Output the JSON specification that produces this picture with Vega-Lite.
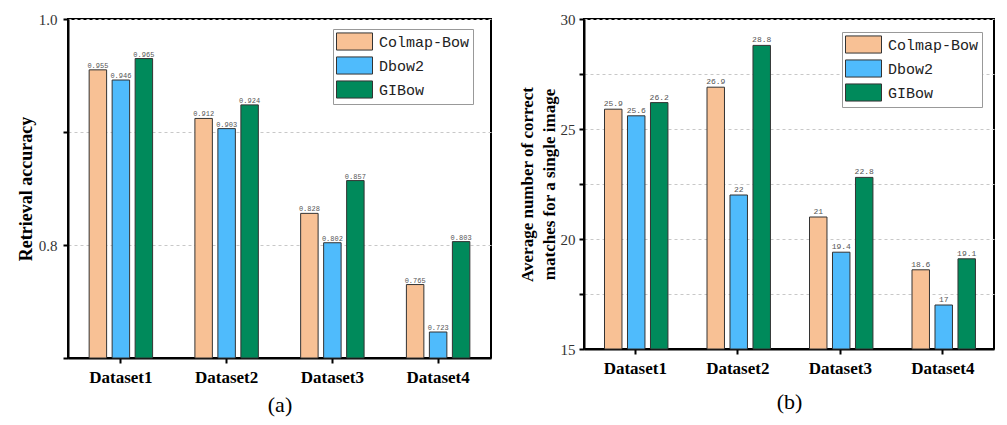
{
  "$schema": "https://vega.github.io/schema/vega-lite/v6.json",
  "padding": {"left": 16, "top": 11, "right": 5, "bottom": 5},
  "background": "white",
  "spacing": 25,
  "config": {
    "view": {"stroke": "black", "strokeWidth": 2},
    "axis": {
      "domainColor": "black", "domainWidth": 2,
      "tickColor": "black", "tickWidth": 2, "tickSize": 5,
      "labelFont": "Liberation Serif", "titleFont": "Liberation Serif",
      "gridColor": "#c8c8c8", "gridDash": [3, 3], "gridWidth": 1
    },
    "legend": {
      "orient": "none",
      "strokeColor": "#999", "fillColor": "white", "padding": 3,
      "symbolType": "M-1,-0.95H3V0.95H-1Z", "symbolSize": 324,
      "symbolStrokeColor": "#333", "symbolStrokeWidth": 1, "symbolOpacity": 1,
      "labelFont": "Liberation Mono", "labelFontSize": 15, "labelColor": "#222",
      "labelOffset": 24, "rowPadding": 1, "title": null
    }
  },
  "hconcat": [
    {
      "width": 423, "height": 339,
      "data": {"values": [
        {"dataset": "Dataset1", "method": "Colmap-Bow", "value": 0.955},
        {"dataset": "Dataset1", "method": "Dbow2", "value": 0.946},
        {"dataset": "Dataset1", "method": "GIBow", "value": 0.965},
        {"dataset": "Dataset2", "method": "Colmap-Bow", "value": 0.912},
        {"dataset": "Dataset2", "method": "Dbow2", "value": 0.903},
        {"dataset": "Dataset2", "method": "GIBow", "value": 0.924},
        {"dataset": "Dataset3", "method": "Colmap-Bow", "value": 0.828},
        {"dataset": "Dataset3", "method": "Dbow2", "value": 0.802},
        {"dataset": "Dataset3", "method": "GIBow", "value": 0.857},
        {"dataset": "Dataset4", "method": "Colmap-Bow", "value": 0.765},
        {"dataset": "Dataset4", "method": "Dbow2", "value": 0.723},
        {"dataset": "Dataset4", "method": "GIBow", "value": 0.803}
      ]},
      "encoding": {
        "x": {"field": "dataset", "type": "nominal",
          "scale": {"paddingInner": 0.4, "paddingOuter": 0.2},
          "axis": {"title": "(a)", "labelAngle": 0, "labelFontWeight": "bold", "labelFontSize": 17,
            "labelColor": "black", "labelPadding": 6, "titleFontSize": 22, "titleFontWeight": "normal",
            "titlePadding": 9, "titleColor": "black", "grid": false}},
        "xOffset": {"field": "method", "type": "nominal", "sort": ["Colmap-Bow", "Dbow2", "GIBow"],
          "scale": {"paddingInner": 0.24, "paddingOuter": 0}},
        "y": {"field": "value", "type": "quantitative",
          "scale": {"domain": [0.7, 1.0], "zero": false, "nice": false},
          "axis": {"values": [0.7, 0.8, 0.9, 1.0],
            "labelExpr": "datum.value == 0.8 || datum.value == 1 ? format(datum.value, '.1f') : ''",
            "title": "Retrieval accuracy", "titleFontSize": 18, "titleFontWeight": "bold", "titleColor": "black",
            "titlePadding": 3, "labelFontSize": 15, "labelColor": "#333", "labelPadding": 6, "grid": true}}
      },
      "layer": [
        {"mark": {"type": "bar", "stroke": "#333", "strokeWidth": 1},
          "encoding": {
            "y2": {"datum": 0.7},
            "color": {"field": "method", "type": "nominal",
              "scale": {"domain": ["Colmap-Bow", "Dbow2", "GIBow"], "range": ["#F8C195", "#4FBBFC", "#008A5B"]},
              "legend": {"legendX": 265, "legendY": 10}}
          }},
        {"mark": {"type": "text", "dy": -1, "baseline": "bottom", "font": "Liberation Mono", "fontSize": 7, "color": "#555"},
          "encoding": {"text": {"field": "value", "type": "quantitative"}}}
      ]
    },
    {
      "width": 410, "height": 330,
      "data": {"values": [
        {"dataset": "Dataset1", "method": "Colmap-Bow", "value": 25.9},
        {"dataset": "Dataset1", "method": "Dbow2", "value": 25.6},
        {"dataset": "Dataset1", "method": "GIBow", "value": 26.2},
        {"dataset": "Dataset2", "method": "Colmap-Bow", "value": 26.9},
        {"dataset": "Dataset2", "method": "Dbow2", "value": 22},
        {"dataset": "Dataset2", "method": "GIBow", "value": 28.8},
        {"dataset": "Dataset3", "method": "Colmap-Bow", "value": 21},
        {"dataset": "Dataset3", "method": "Dbow2", "value": 19.4},
        {"dataset": "Dataset3", "method": "GIBow", "value": 22.8},
        {"dataset": "Dataset4", "method": "Colmap-Bow", "value": 18.6},
        {"dataset": "Dataset4", "method": "Dbow2", "value": 17},
        {"dataset": "Dataset4", "method": "GIBow", "value": 19.1}
      ]},
      "encoding": {
        "x": {"field": "dataset", "type": "nominal",
          "scale": {"paddingInner": 0.4, "paddingOuter": 0.2},
          "axis": {"title": "(b)", "labelAngle": 0, "labelFontWeight": "bold", "labelFontSize": 17,
            "labelColor": "black", "labelPadding": 6, "titleFontSize": 22, "titleFontWeight": "normal",
            "titlePadding": 15, "titleColor": "black", "grid": false}},
        "xOffset": {"field": "method", "type": "nominal", "sort": ["Colmap-Bow", "Dbow2", "GIBow"],
          "scale": {"paddingInner": 0.24, "paddingOuter": 0}},
        "y": {"field": "value", "type": "quantitative",
          "scale": {"domain": [15, 30], "zero": false, "nice": false},
          "axis": {"values": [15, 17.5, 20, 22.5, 25, 27.5, 30],
            "labelExpr": "datum.value % 5 == 0 ? datum.label : ''",
            "title": ["Average number of correct", "matches for a single image"], "titleLineHeight": 22,
            "titleFontSize": 17, "titleFontWeight": "bold", "titleColor": "black",
            "titlePadding": 2, "labelFontSize": 15, "labelColor": "#333", "labelPadding": 4, "grid": true}}
      },
      "layer": [
        {"mark": {"type": "bar", "stroke": "#333", "strokeWidth": 1},
          "encoding": {
            "y2": {"datum": 15},
            "color": {"field": "method", "type": "nominal",
              "scale": {"domain": ["Colmap-Bow", "Dbow2", "GIBow"], "range": ["#F8C195", "#4FBBFC", "#008A5B"]},
              "legend": {"legendX": 258, "legendY": 13}}
          }},
        {"mark": {"type": "text", "dy": -1, "baseline": "bottom", "font": "Liberation Mono", "fontSize": 8, "color": "#555"},
          "encoding": {"text": {"field": "value", "type": "quantitative"}}}
      ]
    }
  ],
  "resolve": {"scale": {"color": "independent"}}
}
